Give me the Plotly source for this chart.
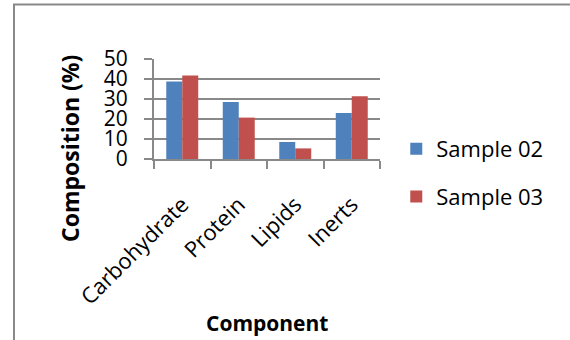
import plotly.graph_objects as go

categories = ["Carbohydrate", "Protein", "Lipids", "Inerts"]
sample_02 = [38.8, 28.5, 8.5, 23.0]
sample_03 = [41.8, 20.7, 5.3, 31.4]
series_names = ["Sample 02", "Sample 03"]
y_ticks = [0, 10, 20, 30, 40, 50]

FONT = "Open Sans"
GRAY = "#898989"

fig = go.Figure()
fig.add_trace(go.Bar(x=categories, y=sample_02, name=series_names[0],
                     marker=dict(color="#4F81BD", line=dict(width=0)),
                     legendgroup="a"))
fig.add_trace(go.Bar(x=categories, y=sample_03, name=series_names[1],
                     marker=dict(color="#C0504D", line=dict(width=0)),
                     legendgroup="b"))

L, T = 154, 59
W, H = 226, 100
fig.update_layout(
    width=570, height=340,
    margin=dict(l=L, r=570 - L - W, t=T, b=340 - T - H, pad=0, autoexpand=False),
    paper_bgcolor="white", plot_bgcolor="white",
    barmode="group", bargap=0.434, bargroupgap=0,
    font=dict(family=FONT, size=21, color="black"),
    showlegend=True,
    legend=dict(x=1.072, y=(T + H - 173) / H, xanchor="left", yanchor="middle",
                font=dict(family=FONT, size=22, color="black"),
                tracegroupgap=16, traceorder="grouped",
                bgcolor="rgba(0,0,0,0)"),
    xaxis=dict(type="category", showgrid=False, showline=True, automargin=False,
               linecolor=GRAY, linewidth=2, ticks="outside",
               tickson="boundaries", ticklen=8, tickcolor=GRAY, tickwidth=2,
               tickangle=-45, ticklabelstandoff=22,
               tickfont=dict(family=FONT, size=22, color="black")),
    yaxis=dict(range=[0, 50], tickvals=y_ticks, showgrid=True, automargin=False,
               gridcolor=GRAY, gridwidth=1.5, showline=True,
               linecolor=GRAY, linewidth=2, ticks="outside", ticklen=8,
               tickcolor=GRAY, tickwidth=1.5, zeroline=False,
               ticklabelstandoff=12,
               tickfont=dict(family=FONT, size=21, color="black")),
)

# chart frame (partially cut off in the reference)
fig.add_shape(type="rect", xref="paper", yref="paper",
              x0=(14 - L) / W, x1=(600 - L) / W,
              y0=(T + H - 400) / H, y1=(T + H - 4.5) / H,
              line=dict(color=GRAY, width=2), fillcolor="rgba(0,0,0,0)",
              layer="below")

fig.add_annotation(text="<b>Composition (%)</b>", xref="paper", yref="paper",
                   x=(70 - L) / W, y=(T + H - 149) / H, textangle=-90,
                   showarrow=False, xanchor="center", yanchor="middle",
                   font=dict(family=FONT, size=23, color="black"))
fig.add_annotation(text="<b>Component</b>", xref="paper", yref="paper",
                   x=(266.5 - L) / W, y=(T + H - 323) / H,
                   showarrow=False, xanchor="center", yanchor="middle",
                   font=dict(family=FONT, size=21, color="black"))

fig.write_html("out.html",
               config={"displayModeBar": False},
               post_script="document.body.style.margin='0';document.body.style.overflow='hidden';")
